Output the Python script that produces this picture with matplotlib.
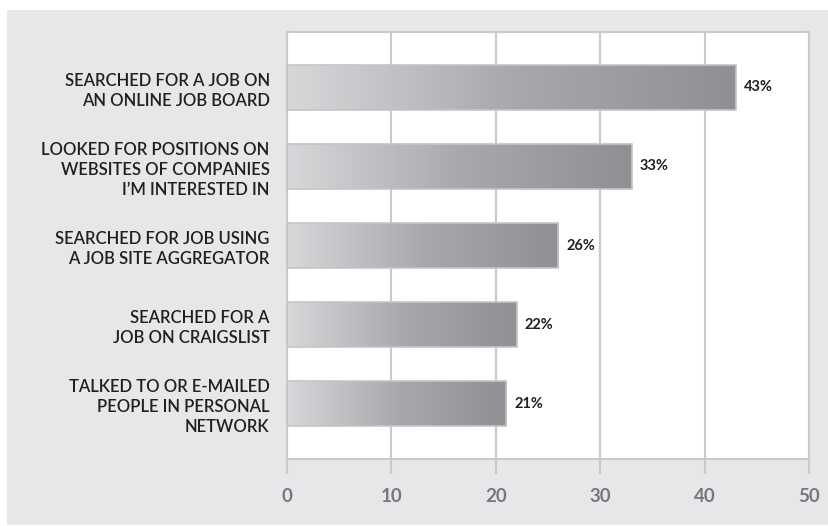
import matplotlib
matplotlib.use("Agg")
import matplotlib.pyplot as plt
import numpy as np
from matplotlib.patches import Rectangle
from matplotlib.colors import LinearSegmentedColormap

# Job search activities, share of respondents (%)
activities = [
    "SEARCHED FOR A JOB ON\nAN ONLINE JOB BOARD",
    "LOOKED FOR POSITIONS ON\nWEBSITES OF COMPANIES\nI\u2019M INTERESTED IN",
    "SEARCHED FOR JOB USING\nA JOB SITE AGGREGATOR",
    "SEARCHED FOR A\nJOB ON CRAIGSLIST",
    "TALKED TO OR E-MAILED\nPEOPLE IN PERSONAL\nNETWORK",
]
shares = [43, 33, 26, 22, 21]
xticks = [0, 10, 20, 30, 40, 50]

W, H = 829, 526
fig = plt.figure(figsize=(W / 100, H / 100), dpi=100)
fig.patch.set_facecolor("white")

# gray panel behind the chart
fig.patches.append(Rectangle((7 / W, 1 / H), 822 / W, 515 / H,
                             transform=fig.transFigure, facecolor="#e6e7e8",
                             edgecolor="none", zorder=-10))

ax = fig.add_axes([287 / W, (H - 459) / H, 522 / W, 427 / H])
ax.set_zorder(5)
ax.set_facecolor("white")

font = "Lato"
grad = LinearSegmentedColormap.from_list("bar", ["#d7d8da", "#a7a9ac", "#8e9093"])

y = np.arange(len(shares))
bars = ax.barh(y, shares, height=0.57, color="none", edgecolor="#c4c5c7",
               linewidth=1.2, zorder=3)
g = np.linspace(0, 1, 256).reshape(1, -1)
for bar, val in zip(bars, shares):
    x0, y0 = bar.get_x(), bar.get_y()
    w, h = bar.get_width(), bar.get_height()
    im = ax.imshow(g, cmap=grad, aspect="auto", extent=(x0, x0 + w, y0 + h, y0),
                   zorder=2, interpolation="bicubic")
    im.set_clip_path(bar)
    ax.text(val + 0.75, y0 + h / 2, f"{val}%", va="center", ha="left",
            fontsize=10.5, fontweight="bold", color="#231f20", family=font)

ax.set_xlim(0, 50)
ax.set_ylim(len(shares) - 0.30, -0.70)
ax.set_xticks(xticks)
ax.set_xticklabels([str(t) for t in xticks], fontsize=13.5, fontweight="bold",
                   color="#77787b", family=font)
ax.tick_params(axis="x", length=11, width=1.5, color="#c8c9cb", pad=10)
ax.set_yticks(y)
ax.set_yticklabels(activities, fontsize=12, fontweight="semibold",
                   color="#231f20", family=font, linespacing=1.3)
ax.tick_params(axis="y", length=0, pad=12.5)

ax.grid(axis="x", color="#c8c9cb", linewidth=1.5, zorder=1)
ax.set_axisbelow(True)
for s in ax.spines.values():
    s.set_color("#c8c9cb")
    s.set_linewidth(1.5)

fig.savefig("out.png", dpi=100, facecolor=fig.get_facecolor())
